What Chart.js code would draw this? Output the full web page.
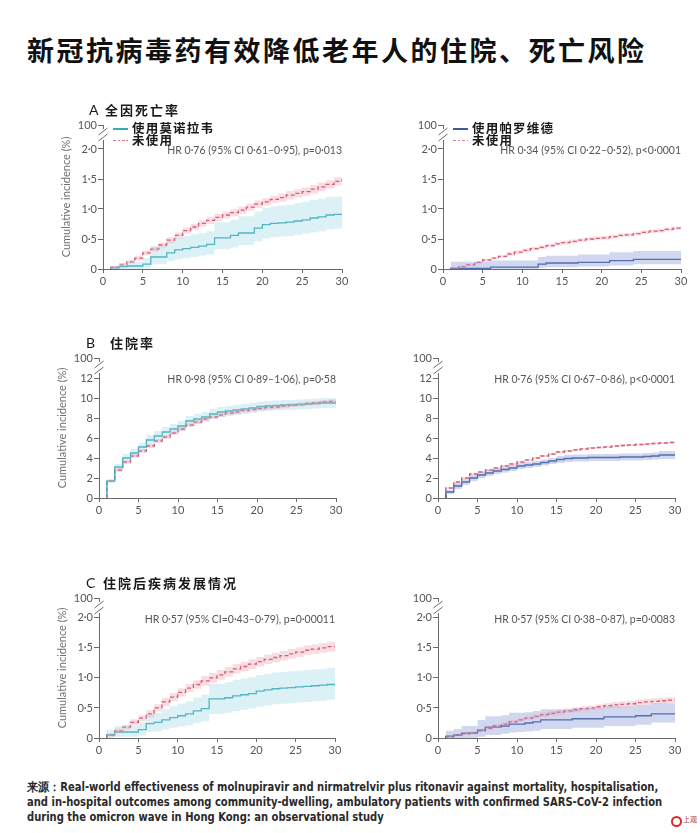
<!DOCTYPE html>
<html><head><meta charset="utf-8">
<script src="https://cdn.jsdelivr.net/npm/chart.js@4.4.1/dist/chart.umd.min.js"></script>
<style>
html,body{margin:0;padding:0;background:#fff;}
body{width:700px;height:833px;position:relative;overflow:hidden;font-family:"Noto Sans CJK SC",sans-serif;color:#1a1a1a;}
#title{position:absolute;left:27px;top:33px;font-size:27px;font-weight:700;letter-spacing:2.5px;line-height:34px;white-space:nowrap;color:#111;}
.plabel{position:absolute;white-space:nowrap;line-height:22px;height:22px;}
.plabel .lt{position:absolute;left:0;top:0;font-family:Lato,"Open Sans",sans-serif;font-size:14px;font-weight:400;}
.plabel .cn{position:absolute;top:0;font-size:13px;font-weight:700;letter-spacing:2px;}
.leg{position:absolute;white-space:nowrap;}
.leg .row{position:relative;height:11.5px;}
.leg .sw{position:absolute;left:0;top:6px;width:15px;height:1.5px;}
.leg .txt{position:absolute;left:19px;top:0;line-height:12px;font-size:12.5px;font-weight:700;letter-spacing:1.2px;color:#1a1a1a;}
canvas{position:absolute;}
#src{position:absolute;left:27px;top:780px;font-family:"Liberation Sans Narrow","DejaVu Sans Condensed",sans-serif;font-stretch:condensed;font-weight:700;font-size:12px;line-height:15px;color:#2a2a2a;white-space:nowrap;transform:scaleX(0.925);transform-origin:0 0;}
#logo{position:absolute;left:671px;top:815px;width:28px;height:12px;}
#logo .ring{position:absolute;left:0;top:1px;width:7px;height:7px;border:2px solid #d42a2a;border-radius:50%;}
#logo .lg{position:absolute;left:12px;top:0;font-size:7px;line-height:9px;color:#a33;}
</style>
</head><body>
<div id="title">新冠抗病毒药有效降低老年人的住院、死亡风险</div>
<div id="src">来源：Real-world effectiveness of molnupiravir and nirmatrelvir plus ritonavir against mortality, hospitalisation,<br>and in-hospital outcomes among community-dwelling, ambulatory patients with confirmed SARS-CoV-2 infection<br>during the omicron wave in Hong Kong: an observational study</div>
<div id="logo"><div class="ring"></div><div class="lg">上观</div></div>
<script>
// ---------- data ----------
const days = [1,2,3,4,5,6,7,8,9,10,11,12,13,14,15,16,17,18,19,20,21,22,23,24,25,26,27,28,29,30];

// A: all-cause mortality (%)
const deathMol    = [0.02,0.04,0.05,0.05,0.08,0.2,0.2,0.27,0.32,0.34,0.36,0.38,0.41,0.52,0.52,0.56,0.6,0.6,0.68,0.74,0.76,0.77,0.78,0.8,0.82,0.85,0.87,0.9,0.91,0.91];
const deathMolLo  = [0,0,0,0,0.01,0.08,0.08,0.13,0.16,0.18,0.2,0.22,0.24,0.33,0.33,0.36,0.4,0.4,0.46,0.51,0.53,0.54,0.55,0.57,0.59,0.61,0.63,0.66,0.67,0.68];
const deathMolHi  = [0.06,0.1,0.12,0.12,0.18,0.38,0.38,0.46,0.52,0.55,0.58,0.6,0.63,0.78,0.78,0.82,0.88,0.88,0.96,1.02,1.04,1.06,1.07,1.1,1.12,1.15,1.17,1.2,1.21,1.22];
const deathCtrlA   = [0.03,0.07,0.12,0.18,0.27,0.33,0.4,0.48,0.56,0.64,0.7,0.76,0.81,0.86,0.9,0.94,0.98,1.03,1.08,1.12,1.16,1.19,1.23,1.26,1.29,1.33,1.37,1.41,1.46,1.5];
const deathCtrlALo = [0.01,0.04,0.09,0.14,0.23,0.29,0.36,0.43,0.51,0.59,0.65,0.71,0.75,0.8,0.84,0.88,0.92,0.97,1.02,1.06,1.1,1.12,1.16,1.19,1.22,1.26,1.3,1.34,1.39,1.42];
const deathCtrlAHi = [0.05,0.1,0.15,0.22,0.31,0.37,0.44,0.53,0.61,0.69,0.75,0.81,0.87,0.92,0.96,1.0,1.04,1.09,1.14,1.18,1.22,1.26,1.3,1.33,1.36,1.4,1.44,1.48,1.53,1.58];

const deathNir    = [0.01,0.01,0.01,0.01,0.01,0.03,0.03,0.03,0.03,0.03,0.03,0.08,0.1,0.1,0.1,0.1,0.11,0.11,0.11,0.11,0.14,0.14,0.14,0.16,0.16,0.16,0.16,0.16,0.16,0.16];
const deathNirLo  = [0,0,0,0,0,0,0,0,0,0,0,0.02,0.03,0.03,0.03,0.03,0.04,0.04,0.04,0.04,0.06,0.06,0.06,0.08,0.08,0.08,0.08,0.08,0.08,0.08];
const deathNirHi  = [0.12,0.12,0.12,0.12,0.12,0.14,0.14,0.14,0.14,0.14,0.14,0.2,0.22,0.22,0.22,0.22,0.24,0.24,0.24,0.24,0.28,0.28,0.28,0.3,0.3,0.3,0.3,0.3,0.3,0.3];
const deathCtrlB   = [0.01,0.04,0.07,0.11,0.15,0.18,0.21,0.25,0.28,0.31,0.34,0.36,0.39,0.42,0.44,0.46,0.48,0.5,0.51,0.52,0.54,0.56,0.57,0.59,0.61,0.63,0.64,0.66,0.68,0.69];
const deathCtrlBLo = [0,0.02,0.05,0.09,0.13,0.16,0.19,0.22,0.25,0.28,0.31,0.33,0.36,0.39,0.41,0.43,0.45,0.47,0.48,0.49,0.51,0.53,0.54,0.56,0.58,0.6,0.61,0.63,0.65,0.66];
const deathCtrlBHi = [0.02,0.06,0.09,0.13,0.17,0.2,0.23,0.28,0.31,0.34,0.37,0.39,0.42,0.45,0.47,0.49,0.51,0.53,0.54,0.55,0.57,0.59,0.6,0.62,0.64,0.66,0.67,0.69,0.71,0.72];

// B: hospitalisation (%)
const hospMol    = [1.7,3.1,4.0,4.5,5.1,5.8,6.2,6.6,6.9,7.2,7.7,7.9,8.1,8.4,8.6,8.7,8.8,8.9,9.0,9.15,9.2,9.25,9.3,9.3,9.35,9.4,9.45,9.5,9.5,9.5];
const hospMolLo  = [1.5,2.8,3.6,4.1,4.7,5.3,5.7,6.1,6.4,6.7,7.2,7.4,7.6,7.9,8.1,8.2,8.3,8.4,8.5,8.65,8.7,8.75,8.8,8.8,8.85,8.9,8.95,9.0,9.0,9.0];
const hospMolHi  = [1.9,3.4,4.4,4.9,5.5,6.3,6.7,7.1,7.4,7.7,8.2,8.4,8.6,8.9,9.1,9.2,9.3,9.4,9.5,9.65,9.7,9.75,9.8,9.8,9.85,9.9,9.95,10.0,10.0,10.0];
const hospCtrlA   = [1.7,2.8,3.6,4.2,4.7,5.2,5.7,6.1,6.5,6.9,7.3,7.6,7.9,8.1,8.3,8.5,8.6,8.75,8.85,8.95,9.05,9.1,9.2,9.3,9.35,9.45,9.5,9.6,9.65,9.7];
const hospCtrlALo = [1.6,2.6,3.4,4.0,4.5,5.0,5.5,5.9,6.3,6.7,7.1,7.4,7.7,7.9,8.1,8.3,8.4,8.55,8.65,8.75,8.85,8.9,9.0,9.1,9.15,9.25,9.3,9.4,9.45,9.5];
const hospCtrlAHi = [1.8,3.0,3.8,4.4,4.9,5.4,5.9,6.3,6.7,7.1,7.5,7.8,8.1,8.3,8.5,8.7,8.8,8.95,9.05,9.15,9.25,9.3,9.4,9.5,9.55,9.65,9.7,9.8,9.85,9.9];

const hospNir    = [0.6,1.2,1.6,2.0,2.3,2.5,2.7,2.85,3.0,3.2,3.3,3.4,3.55,3.7,3.85,3.95,4.0,4.0,4.05,4.05,4.05,4.05,4.1,4.1,4.1,4.15,4.2,4.3,4.3,4.3];
const hospNirLo  = [0.4,0.9,1.3,1.7,2.0,2.2,2.4,2.55,2.7,2.9,3.0,3.1,3.25,3.4,3.5,3.6,3.65,3.65,3.7,3.7,3.7,3.7,3.75,3.75,3.75,3.8,3.85,3.9,3.9,3.9];
const hospNirHi  = [0.8,1.5,1.9,2.3,2.6,2.8,3.0,3.15,3.3,3.5,3.6,3.7,3.85,4.0,4.2,4.3,4.35,4.35,4.4,4.4,4.4,4.4,4.45,4.45,4.45,4.5,4.55,4.7,4.7,4.7];
const hospCtrlB   = [1.0,1.6,2.0,2.4,2.6,2.8,3.0,3.2,3.4,3.6,3.8,4.0,4.2,4.4,4.6,4.7,4.8,4.9,5.0,5.05,5.1,5.2,5.25,5.3,5.35,5.4,5.45,5.5,5.55,5.6];
const hospCtrlBLo = [0.9,1.5,1.9,2.3,2.5,2.7,2.9,3.1,3.3,3.5,3.7,3.9,4.1,4.3,4.5,4.6,4.7,4.8,4.9,4.95,5.0,5.1,5.15,5.2,5.25,5.3,5.35,5.4,5.45,5.5];
const hospCtrlBHi = [1.1,1.7,2.1,2.5,2.7,2.9,3.1,3.3,3.5,3.7,3.9,4.1,4.3,4.5,4.7,4.8,4.9,5.0,5.1,5.15,5.2,5.3,5.35,5.4,5.45,5.5,5.55,5.6,5.65,5.7];

// C: in-hospital disease progression (%)
const progMol    = [0.05,0.1,0.1,0.1,0.14,0.24,0.26,0.3,0.34,0.37,0.4,0.45,0.49,0.65,0.65,0.67,0.7,0.72,0.74,0.78,0.8,0.82,0.83,0.84,0.85,0.86,0.87,0.88,0.89,0.89];
const progMolLo  = [0,0.02,0.02,0.02,0.04,0.1,0.11,0.14,0.17,0.19,0.21,0.25,0.28,0.4,0.4,0.42,0.45,0.47,0.49,0.52,0.54,0.56,0.57,0.58,0.59,0.6,0.61,0.62,0.64,0.65];
const progMolHi  = [0.14,0.2,0.2,0.2,0.26,0.4,0.42,0.48,0.53,0.57,0.61,0.67,0.72,0.9,0.9,0.93,0.97,0.99,1.01,1.05,1.07,1.09,1.1,1.11,1.12,1.13,1.14,1.15,1.17,1.18];
const progCtrlA   = [0.05,0.12,0.18,0.26,0.33,0.4,0.5,0.6,0.68,0.76,0.83,0.89,0.95,1.0,1.05,1.1,1.15,1.19,1.23,1.27,1.31,1.34,1.37,1.4,1.43,1.46,1.48,1.5,1.52,1.53];
const progCtrlALo = [0.02,0.08,0.14,0.21,0.28,0.34,0.44,0.53,0.61,0.69,0.76,0.82,0.87,0.92,0.97,1.02,1.07,1.11,1.15,1.19,1.23,1.26,1.29,1.32,1.35,1.38,1.4,1.42,1.44,1.45];
const progCtrlAHi = [0.08,0.16,0.22,0.31,0.38,0.46,0.56,0.67,0.75,0.83,0.9,0.96,1.03,1.08,1.13,1.18,1.23,1.27,1.31,1.35,1.39,1.42,1.45,1.48,1.51,1.54,1.56,1.58,1.6,1.61];

const progNir    = [0.03,0.05,0.08,0.08,0.13,0.18,0.18,0.2,0.23,0.23,0.25,0.27,0.3,0.3,0.3,0.3,0.32,0.32,0.32,0.32,0.35,0.35,0.35,0.35,0.37,0.37,0.4,0.4,0.4,0.4];
const progNirLo  = [0,0,0,0,0.02,0.05,0.05,0.07,0.09,0.1,0.11,0.12,0.15,0.15,0.15,0.15,0.17,0.17,0.17,0.17,0.2,0.2,0.2,0.2,0.22,0.22,0.26,0.26,0.26,0.26];
const progNirHi  = [0.12,0.15,0.2,0.2,0.3,0.36,0.36,0.38,0.42,0.42,0.43,0.45,0.48,0.48,0.48,0.48,0.5,0.5,0.5,0.5,0.53,0.53,0.53,0.53,0.55,0.55,0.58,0.58,0.58,0.58];
const progCtrlB   = [0.02,0.05,0.07,0.09,0.12,0.16,0.2,0.23,0.27,0.3,0.33,0.36,0.39,0.41,0.43,0.45,0.47,0.49,0.5,0.52,0.54,0.55,0.56,0.57,0.59,0.6,0.61,0.62,0.63,0.64];
const progCtrlBLo = [0,0.03,0.05,0.07,0.1,0.13,0.17,0.2,0.24,0.27,0.3,0.33,0.35,0.37,0.39,0.41,0.43,0.45,0.46,0.48,0.5,0.5,0.51,0.52,0.54,0.55,0.56,0.57,0.58,0.59];
const progCtrlBHi = [0.04,0.07,0.09,0.11,0.14,0.19,0.23,0.26,0.3,0.33,0.36,0.39,0.43,0.45,0.47,0.49,0.51,0.53,0.54,0.56,0.58,0.6,0.61,0.62,0.64,0.65,0.66,0.67,0.68,0.69];

// ticks & labels
const xTicks = [0,5,10,15,20,25,30];
const xTickLabels = ['0','5','10','15','20','25','30'];
const yTicksSmall = [0,0.5,1,1.5,2];
const yTickLabelsSmall = ['0','0·5','1·0','1·5','2·0'];
const yTicksHosp = [0,2,4,6,8,10,12];
const yTickLabelsHosp = ['0','2','4','6','8','10','12'];
const breakTickLabel = '100';
const yAxisTitle = 'Cumulative incidence (%)';
const panelTitles = [['A','全因死亡率'],['B','住院率'],['C','住院后疾病发展情况']];
const legendMol = ['使用莫诺拉韦','未使用'];
const legendNir = ['使用帕罗维德','未使用'];
const hrTexts = [
  'HR 0·76 (95% CI 0·61–0·95), p=0·013',
  'HR 0·34 (95% CI 0·22–0·52), p<0·0001',
  'HR 0·98 (95% CI 0·89–1·06), p=0·58',
  'HR 0·76 (95% CI 0·67–0·86), p<0·0001',
  'HR 0·57 (95% CI=0·43–0·79), p=0·00011',
  'HR 0·57 (95% CI 0·38–0·87), p=0·0083'
];

// ---------- styles ----------
const teal = '#3aa9b6', tealBand = 'rgba(140,210,225,0.3)';
const blue = '#3d5c9c', blueBand = 'rgba(125,145,212,0.36)';
const pink = '#c8465f', pinkBand = 'rgba(240,150,168,0.32)';
const axisColor = '#6a6a6a', tickColor = '#555';
const Y_W = 48, PAD_T = 10, PAD_R = 14, X_H = 26;

const panels = [
  {area:[103,125,342,269], top:2.4, ticks:yTicksSmall, labels:yTickLabelsSmall, title:true, trt:deathMol, trtLo:deathMolLo, trtHi:deathMolHi, c:deathCtrlA, cLo:deathCtrlALo, cHi:deathCtrlAHi, col:teal, band:tealBand, hr:hrTexts[0]},
  {area:[443,125,681,269], top:2.4, ticks:yTicksSmall, labels:yTickLabelsSmall, title:false, trt:deathNir, trtLo:deathNirLo, trtHi:deathNirHi, c:deathCtrlB, cLo:deathCtrlBLo, cHi:deathCtrlBHi, col:blue, band:blueBand, hr:hrTexts[1]},
  {area:[99,358,336,498], top:14, ticks:yTicksHosp, labels:yTickLabelsHosp, title:true, trt:hospMol, trtLo:hospMolLo, trtHi:hospMolHi, c:hospCtrlA, cLo:hospCtrlALo, cHi:hospCtrlAHi, col:teal, band:tealBand, hr:hrTexts[2]},
  {area:[438,358,675,498], top:14, ticks:yTicksHosp, labels:yTickLabelsHosp, title:false, trt:hospNir, trtLo:hospNirLo, trtHi:hospNirHi, c:hospCtrlB, cLo:hospCtrlBLo, cHi:hospCtrlBHi, col:blue, band:blueBand, hr:hrTexts[3]},
  {area:[99,598,335,738], top:2.33, ticks:yTicksSmall, labels:yTickLabelsSmall, title:true, trt:progMol, trtLo:progMolLo, trtHi:progMolHi, c:progCtrlA, cLo:progCtrlALo, cHi:progCtrlAHi, col:teal, band:tealBand, hr:hrTexts[4]},
  {area:[438,598,675,738], top:2.33, ticks:yTicksSmall, labels:yTickLabelsSmall, title:false, trt:progNir, trtLo:progNirLo, trtHi:progNirHi, c:progCtrlB, cLo:progCtrlBLo, cHi:progCtrlBHi, col:blue, band:blueBand, hr:hrTexts[5]}
];

const series = arr => [{x: days[0], y: 0}].concat(days.map((d, i) => ({x: d, y: arr[i]})));

const breakPlugin = {
  id: 'axisBreak',
  afterDatasetsDraw(chart, args, opts) {
    const ctx = chart.ctx, a = chart.chartArea, x = a.left + 0.5;
    ctx.save();
    ctx.strokeStyle = axisColor; ctx.lineWidth = 1;
    ctx.beginPath();
    ctx.moveTo(x, a.bottom); ctx.lineTo(x, a.top + 15);
    ctx.moveTo(x, a.top); ctx.lineTo(x, a.top + 4);
    ctx.moveTo(x - 5, a.top + 10); ctx.lineTo(x + 4, a.top + 3);
    ctx.moveTo(x - 5, a.top + 16); ctx.lineTo(x + 4, a.top + 9);
    ctx.stroke();
    const ys = chart.scales.y;
    ctx.fillStyle = '#555';
    ctx.font = '10.5px Lato, "Open Sans", sans-serif';
    ctx.textAlign = 'right'; ctx.textBaseline = 'middle';
    ctx.fillText(opts.text, a.right, ys.getPixelForValue(opts.level) + 2);
    ctx.restore();
  }
};

function makeChart(p) {
  const [l, t, r, b] = p.area;
  const cv = document.createElement('canvas');
  const w = r - l + Y_W + PAD_R, h = b - t + PAD_T + X_H;
  cv.width = w; cv.height = h;
  cv.style.left = (l - Y_W) + 'px'; cv.style.top = (t - PAD_T) + 'px';
  cv.style.width = w + 'px'; cv.style.height = h + 'px';
  document.body.appendChild(cv);
  const yLabels = p.labels.concat([breakTickLabel]);
  const base = {pointRadius: 0, pointHoverRadius: 0, stepped: true, tension: 0};
  new Chart(cv, {
    type: 'line',
    data: {datasets: [
      Object.assign({data: series(p.cLo), borderWidth: 0, fill: false}, base),
      Object.assign({data: series(p.cHi), borderWidth: 0, fill: '-1', backgroundColor: pinkBand}, base),
      Object.assign({data: series(p.trtLo), borderWidth: 0, fill: false}, base),
      Object.assign({data: series(p.trtHi), borderWidth: 0, fill: '-1', backgroundColor: p.band}, base),
      Object.assign({data: series(p.trt), borderWidth: 1.3, borderColor: p.col, fill: false}, base),
      Object.assign({data: series(p.c), borderWidth: 1.3, borderColor: pink, borderDash: [4, 2.5], fill: false}, base)
    ]},
    options: {
      responsive: false, animation: false, devicePixelRatio: 1,
      layout: {padding: {top: PAD_T, right: PAD_R, left: 0, bottom: 0}},
      plugins: {legend: {display: false}, tooltip: {enabled: false}, axisBreak: {text: p.hr, level: p.ticks[p.ticks.length - 1]}},
      scales: {
        x: {
          type: 'linear', min: 0, max: 30,
          afterBuildTicks: s => { s.ticks = xTicks.map(v => ({value: v})); },
          afterFit: s => { s.height = X_H; },
          ticks: {callback: (v, i) => xTickLabels[i], color: tickColor, font: {family: 'Lato', size: 11}, padding: 2, maxRotation: 0},
          grid: {display: true, drawOnChartArea: false, drawTicks: true, tickLength: 4, color: axisColor},
          border: {display: true, color: axisColor, width: 1}
        },
        y: {
          type: 'linear', min: 0, max: p.top,
          afterBuildTicks: s => { s.ticks = p.ticks.concat([p.top]).map(v => ({value: v})); },
          afterFit: s => { s.width = Y_W; },
          ticks: {callback: (v, i) => yLabels[i], color: tickColor, font: {family: 'Lato', size: 11}, padding: 1},
          grid: {display: true, drawOnChartArea: false, drawTicks: true, tickLength: 5, color: axisColor},
          border: {display: false},
          title: {display: p.title, text: yAxisTitle, color: '#707070', font: {family: 'Lato', size: 11}, padding: {top: 5, bottom: 0}}
        }
      }
    },
    plugins: [breakPlugin]
  });
}
panels.forEach(makeChart);

function addLabel(x, y, cnX, pair) {
  const d = document.createElement('div');
  d.className = 'plabel'; d.style.left = x + 'px'; d.style.top = y + 'px';
  d.innerHTML = '<span class="lt">' + pair[0] + '</span><span class="cn" style="left:' + cnX + 'px">' + pair[1] + '</span>';
  document.body.appendChild(d);
}
addLabel(89, 99, 16, panelTitles[0]);
addLabel(86, 332, 24, panelTitles[1]);
addLabel(86, 572, 17, panelTitles[2]);

function addLegend(x, y, labels, col) {
  const d = document.createElement('div');
  d.className = 'leg'; d.style.left = x + 'px'; d.style.top = y + 'px';
  d.innerHTML =
    '<div class="row"><div class="sw" style="background:' + col + '"></div><div class="txt">' + labels[0] + '</div></div>' +
    '<div class="row"><div class="sw" style="background:repeating-linear-gradient(to right,#d9788b 0 2.5px,transparent 2.5px 4.5px)"></div><div class="txt">' + labels[1] + '</div></div>';
  document.body.appendChild(d);
}
addLegend(113, 122, legendMol, teal);
addLegend(453, 122, legendNir, blue);
</script>
</body></html>
